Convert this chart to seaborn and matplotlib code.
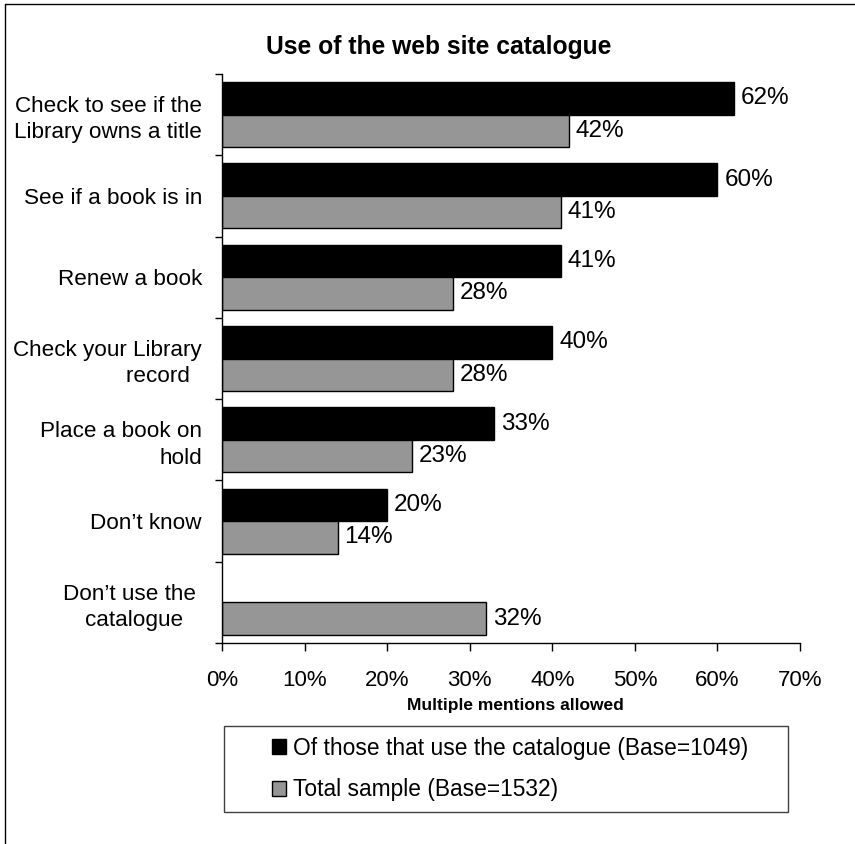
import numpy as np
import pandas as pd
import matplotlib
matplotlib.use("Agg")
import matplotlib.pyplot as plt
from matplotlib.lines import Line2D
from matplotlib.patches import Patch, Rectangle
import seaborn as sns

# Survey responses (percent), one entry per catalogue use
categories = [
    "Check to see if the\nLibrary owns a title",
    "See if a book is in",
    "Renew a book",
    "Check your Library\nrecord  ",
    "Place a book on\nhold",
    "Don\u2019t know",
    "Don\u2019t use the \ncatalogue   ",
]
catalogue_users = [62, 60, 41, 40, 33, 20, np.nan]
total_sample = [42, 41, 28, 28, 23, 14, 32]

series_names = [
    "Of those that use the catalogue (Base=1049)",
    "Total sample (Base=1532)",
]
series_colors = ["#000000", "#969696"]
x_ticks = [0, 10, 20, 30, 40, 50, 60, 70]
x_tick_labels = ["0%", "10%", "20%", "30%", "40%", "50%", "60%", "70%"]

df = pd.DataFrame({
    "category": categories * 2,
    "group": [series_names[0]] * len(categories) + [series_names[1]] * len(categories),
    "value": catalogue_users + total_sample,
}).dropna()

sns.set_style("white")
plt.rcParams["font.family"] = ["Liberation Sans", "DejaVu Sans"]
for key in ("text.color", "axes.labelcolor", "xtick.color", "ytick.color"):
    plt.rcParams[key] = "black"

W, H = 855, 844
fig = plt.figure(figsize=(W / 100, H / 100), dpi=100)
ax = fig.add_axes([222 / W, 1 - 643 / H, (800 - 222) / W, (643 - 74) / H])

sns.barplot(
    data=df, y="category", x="value", hue="group",
    order=categories, hue_order=series_names, palette=series_colors,
    orient="h", width=0.8, saturation=1, errorbar=None,
    edgecolor="black", linewidth=1.0, legend=False, ax=ax,
)

for container in ax.containers:
    ax.bar_label(container, fmt="{:.0f}%", padding=5, fontsize=17.5, color="black")

ax.set_xlim(0, 70)
ax.set_ylim(6.5, -0.5)
ax.set_xticks(x_ticks)
ax.set_xticklabels(x_tick_labels)
ax.set_xlabel("")
ax.set_ylabel("")

# category boundaries carry the y ticks
ax.set_yticks(np.arange(-0.5, 7, 1), minor=True)
ax.tick_params(axis="y", which="major", left=True, length=0, pad=14.4, labelsize=16.2)
ax.tick_params(axis="y", which="minor", left=True, length=5, width=1,
               direction="out", color="black")
ax.tick_params(axis="x", which="major", bottom=True, length=5.8, width=1, direction="out",
               pad=14, labelsize=16, color="black")
for lbl in ax.get_yticklabels():
    lbl.set_multialignment("right")
    lbl.set_linespacing(1.33)

for side in ("top", "right"):
    ax.spines[side].set_visible(False)
for side in ("left", "bottom"):
    ax.spines[side].set_color("black")
    ax.spines[side].set_linewidth(1.0)

fig.text(439 / W, 1 - 54 / H, "Use of the web site catalogue",
         ha="center", va="baseline", fontsize=17.7, fontweight="bold")
fig.text(515 / W, 1 - 710 / H, "Multiple mentions allowed",
         ha="center", va="baseline", fontsize=12.5, fontweight="bold")

# legend with its own rectangular frame
handles = [Patch(facecolor=c, edgecolor="black", linewidth=1.0) for c in series_colors]
fig.legend(handles, series_names, loc="center", bbox_to_anchor=(510 / W, 1 - 769 / H),
           frameon=False, fontsize=16.4, handlelength=0.6, handleheight=0.6,
           handletextpad=0.3, labelspacing=0.82, borderpad=0)
fig.add_artist(Rectangle((224 / W, 1 - 812 / H), (788 - 224) / W, (812 - 726) / H,
                         transform=fig.transFigure, fill=False,
                         edgecolor="#404040", linewidth=1.0))

# outer frame (left and top edges)
fig.add_artist(Line2D([5 / W, 5 / W], [0, 1 - 4 / H], transform=fig.transFigure,
                      color="black", linewidth=1.0))
fig.add_artist(Line2D([5 / W, 1], [1 - 4 / H, 1 - 4 / H], transform=fig.transFigure,
                      color="black", linewidth=1.0))

fig.savefig("out.png", dpi=100)
